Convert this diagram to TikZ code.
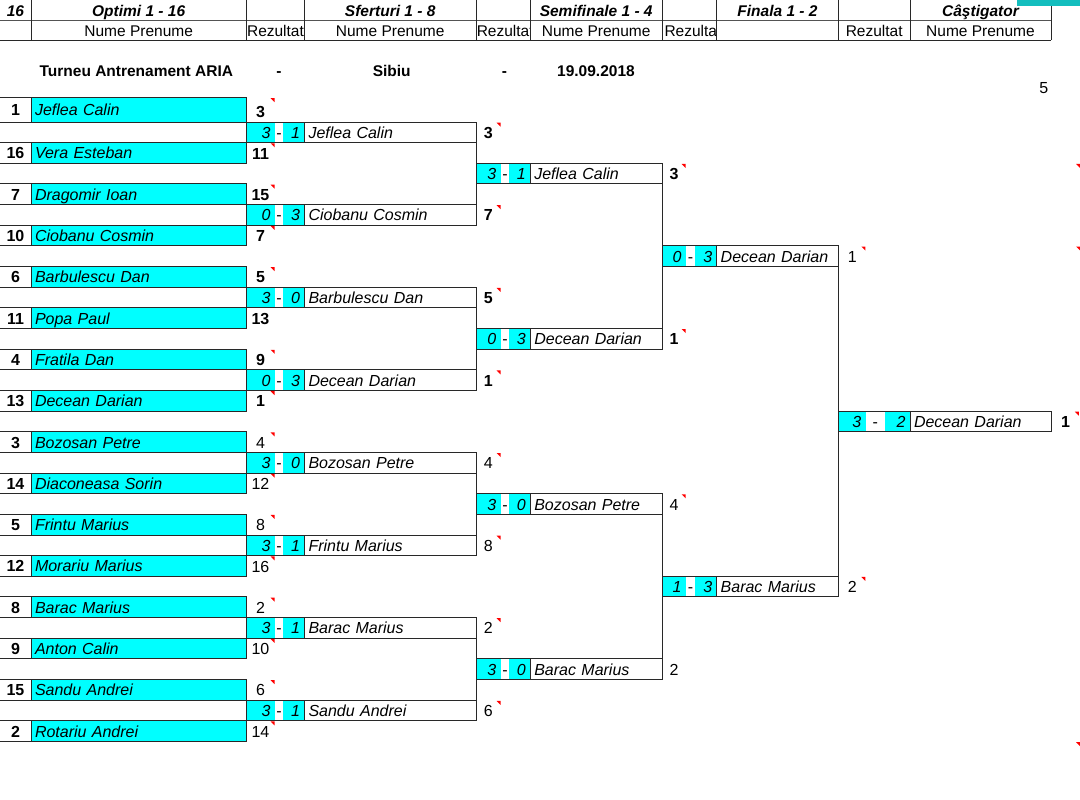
\documentclass[tikz,border=0pt]{standalone}
\usepackage{fontspec}
\setmainfont{Liberation Sans}
\definecolor{cy}{RGB}{0,255,255}
\definecolor{lc}{RGB}{40,40,40}
\definecolor{tealbar}{RGB}{20,190,190}
\definecolor{redm}{RGB}{255,0,0}
\newcommand\fsB{\fontsize{16}{18}\selectfont}
\newcommand\fsH{\fontsize{15.5}{18}\selectfont}
\newcommand\RT[1]{%
  \pgfmathsetmacro\myrt{ifthenelse(#1==0,97.5,122+(#1-1)*20.65)}%
  \pgfmathsetmacro\myrh{ifthenelse(#1==0,24.5,20.65)}%
  \pgfmathsetmacro\myrb{\myrt+\myrh}}
\newcommand\CBox[6]{%
  \RT{#4}\pgfmathsetmacro\myw{#3-#2}%
  \node[cell,#5,minimum width=\myw pt,minimum height=\myrh pt] (#1) at (#2,\myrt) {#6};}
\newcommand\LBox[6]{%
  \RT{#4}\pgfmathsetmacro\myw{#3-#2}\pgfmathsetmacro\mytw{#3-#2-8}%
  \node[cell,#5,minimum width=\myw pt,minimum height=\myrh pt,text width=\mytw pt,align=left] (#1) at (#2,\myrt) {#6};}
\newcommand\RBox[6]{%
  \RT{#4}\pgfmathsetmacro\myw{#3-#2}\pgfmathsetmacro\mytw{#3-#2-9}%
  \node[cell,#5,minimum width=\myw pt,minimum height=\myrh pt,text width=\mytw pt,align=right] (#1) at (#2,\myrt) {#6};}
\newcommand\RedMark[2]{\fill[redm] (#1-4,#2+0.6) -- (#1,#2+0.6) -- (#1,#2+4.6) -- cycle;}
\newcommand\Player[6]{%
  \CBox{#1s}{0}{31}{#2}{}{\bfseries #3}%
  \draw[ln] (#1s.north west) -- (#1s.north east) (#1s.south west) -- (#1s.south east);%
  \LBox{#1}{31}{246.5}{#2}{ln,fill=cy}{\itshape #4}%
  \RT{#2}%
  \node[lbl] (#1r) at (260.5,\myrb-4.3) {#5};%
  \ifnum#6=1 \RedMark{274.5}{\myrt}\fi}
\newcommand\SetCols[7]{\def\cxa{#1}\def\cxb{#2}\def\cxc{#3}\def\cxd{#4}\def\cxe{#5}\def\cxs{#6}\def\cxr{#7}}
\newcommand\Match[7]{%
  \RBox{#1a}{\cxa}{\cxb}{#2}{fill=cy}{\itshape #3}%
  \CBox{#1d}{\cxb}{\cxc}{#2}{}{-}%
  \RBox{#1b}{\cxc}{\cxd}{#2}{fill=cy}{\itshape #4}%
  \LBox{#1n}{\cxd}{\cxe}{#2}{ln}{\itshape #5}%
  \draw[ln] (#1a.north west) rectangle (#1n.south east);%
  \RT{#2}%
  \node[lbl] (#1r) at (\cxs,\myrb-4.3) {#6};%
  \ifnum#7=1 \RedMark{\cxr}{\myrt}\fi}
\begin{document}
\begin{tikzpicture}[x=1pt,y=-1pt,
  every node/.style={inner sep=0pt,outer sep=0pt},
  ln/.style={draw=lc,line width=1pt},
  hl/.style={draw=lc!80,line width=1.5pt},
  cell/.style={anchor=north west,text height=12.3pt,text depth=0.3pt,font=\fsB},
  lbl/.style={anchor=base,font=\fsB},
  ht/.style={anchor=base,font=\fsH},
  hbi/.style={anchor=base,font=\fsH\bfseries\itshape}]
\fill[white] (0,0) rectangle (1080,800);
\useasboundingbox (0,0) rectangle (1080,800);

% ---------- header ----------
\node[hbi] (h16) at (15.5,16.8) {16};
\node[hbi] (hopt) at (138.7,16.8) {Optimi 1 - 16};
\node[hbi] (hsf) at (390.2,16.8) {Sferturi 1 - 8};
\node[hbi] (hsemi) at (596.2,16.8) {Semifinale 1 - 4};
\node[hbi] (hfin) at (777.5,16.8) {Finala 1 - 2};
\node[hbi] (hcst) at (980.5,16.8) {Câştigator};
\node[ht] (hn1) at (138.7,37) {Nume Prenume};
\node[ht] (hr1) at (275.5,37) {Rezultat};
\node[ht] (hn2) at (390.2,37) {Nume Prenume};
\begin{scope}
  \clip (476,20.5) rectangle (530,40.5);
  \node[ht,anchor=base west] (hr2) at (476.8,37) {Rezultat};
\end{scope}
\node[ht] (hn3) at (596.2,37) {Nume Prenume};
\begin{scope}
  \clip (662.5,20.5) rectangle (716.5,40.5);
  \node[ht,anchor=base west] (hr3) at (664.5,37) {Rezultat};
\end{scope}
\node[ht] (hr4) at (874.2,37) {Rezultat};
\node[ht] (hn4) at (980.5,37) {Nume Prenume};
\draw[hl] (0,20.5) -- (1051,20.5);
\draw[ln] (0,40.5) -- (1051,40.5);
\foreach \x in {31,246.5,304.5,476,530,662.5,716.5,838.5,910,1051}
  \draw[ln] (\x,0) -- (\x,40.5);
\fill[tealbar] (1017,0) rectangle (1080,6);

% ---------- title ----------
\node[ht,anchor=base west,font=\fsH\bfseries] (ttl) at (39.6,76.5) {Turneu Antrenament ARIA};
\node[ht,font=\fsH\bfseries] (td1) at (279,76.5) {-};
\node[ht,font=\fsH\bfseries] (tcity) at (391.7,76.5) {Sibiu};
\node[ht,font=\fsH\bfseries] (td2) at (504.5,76.5) {-};
\node[ht,anchor=base west,font=\fsH\bfseries] (tdate) at (557.2,76.5) {19.09.2018};
\node[lbl] (five) at (1043.8,93.8) {5};

% ---------- round of 16 ----------
\Player{p1}{0}{1}{Jeflea Calin}{\bfseries 3}{1}
\Player{p16}{2}{16}{Vera Esteban}{\bfseries 11}{1}
\Player{p7}{4}{7}{Dragomir Ioan}{\bfseries 15}{1}
\Player{p10}{6}{10}{Ciobanu Cosmin}{\bfseries 7}{1}
\Player{p6}{8}{6}{Barbulescu Dan}{\bfseries 5}{1}
\Player{p11}{10}{11}{Popa Paul}{\bfseries 13}{0}
\Player{p4}{12}{4}{Fratila Dan}{\bfseries 9}{1}
\Player{p13}{14}{13}{Decean Darian}{\bfseries 1}{1}
\Player{p3}{16}{3}{Bozosan Petre}{4}{1}
\Player{p14}{18}{14}{Diaconeasa Sorin}{12}{1}
\Player{p5}{20}{5}{Frintu Marius}{8}{1}
\Player{p12}{22}{12}{Morariu Marius}{16}{1}
\Player{p8}{24}{8}{Barac Marius}{2}{1}
\Player{p9}{26}{9}{Anton Calin}{10}{1}
\Player{p15}{28}{15}{Sandu Andrei}{6}{1}
\Player{p2}{30}{2}{Rotariu Andrei}{14}{1}

% ---------- quarter finals ----------
\SetCols{246.5}{275}{283.3}{304.5}{476}{488.3}{500.5}
\Match{q1}{1}{3}{1}{Jeflea Calin}{\bfseries 3}{1}
\Match{q2}{5}{0}{3}{Ciobanu Cosmin}{\bfseries 7}{1}
\Match{q3}{9}{3}{0}{Barbulescu Dan}{\bfseries 5}{1}
\Match{q4}{13}{0}{3}{Decean Darian}{\bfseries 1}{1}
\Match{q5}{17}{3}{0}{Bozosan Petre}{4}{1}
\Match{q6}{21}{3}{1}{Frintu Marius}{8}{1}
\Match{q7}{25}{3}{1}{Barac Marius}{2}{1}
\Match{q8}{29}{3}{1}{Sandu Andrei}{6}{1}

% ---------- semi finals ----------
\SetCols{476}{500.7}{509.3}{530.3}{662.5}{674}{685.6}
\Match{s1}{3}{3}{1}{Jeflea Calin}{\bfseries 3}{1}
\Match{s2}{11}{0}{3}{Decean Darian}{\bfseries 1}{1}
\Match{s3}{19}{3}{0}{Bozosan Petre}{4}{1}
\Match{s4}{27}{3}{0}{Barac Marius}{2}{0}

% ---------- finals ----------
\SetCols{662.5}{686}{695}{716.7}{838.5}{852.2}{865.3}
\Match{f1}{7}{0}{3}{Decean Darian}{1}{1}
\Match{f2}{23}{1}{3}{Barac Marius}{2}{1}

% ---------- winner ----------
\SetCols{838.5}{865.7}{884.7}{910}{1051}{1065.5}{1078.8}
\Match{w}{15}{3}{2}{Decean Darian}{\bfseries 1}{1}

% ---------- connectors ----------
\draw[ln] (q1n.north east) -- (q2n.south east);
\draw[ln] (q3n.north east) -- (q4n.south east);
\draw[ln] (q5n.north east) -- (q6n.south east);
\draw[ln] (q7n.north east) -- (q8n.south east);
\draw[ln] (s1n.north east) -- (s2n.south east);
\draw[ln] (s3n.north east) -- (s4n.south east);
\draw[ln] (f1n.north east) -- (f2n.south east);

% ---------- stray comment marks at right edge ----------
\RedMark{1080}{163.3}
\RedMark{1080}{245.9}
\RedMark{1080}{741.5}
\end{tikzpicture}
\end{document}
